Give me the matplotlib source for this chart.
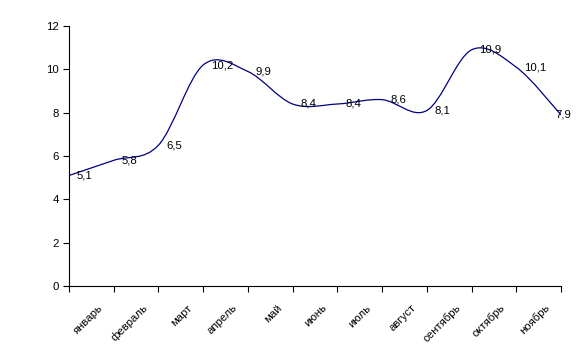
import matplotlib
matplotlib.use("Agg")
import matplotlib.pyplot as plt
from matplotlib.path import Path
from matplotlib.patches import PathPatch
import numpy as np

values = [5.1, 5.8, 6.5, 10.2, 9.9, 8.4, 8.4, 8.6, 8.1, 10.9, 10.1, 7.9]
value_labels = ["5,1", "5,8", "6,5", "10,2", "9,9", "8,4", "8,4", "8,6", "8,1", "10,9", "10,1", "7,9"]
months = ["январь", "февраль", "март", "апрель", "май", "июнь", "июль",
          "август", "сентябрь", "октябрь", "ноябрь"]
yticks = [0, 2, 4, 6, 8, 10, 12]

plt.rcParams['font.family'] = ['Liberation Sans', 'DejaVu Sans']
fs = 8.2

fig = plt.figure(figsize=(5.76, 3.64), dpi=100)
ax = fig.add_axes([69/576, 1-286/364, (561-69)/576, (286-26)/364])

x = np.arange(len(values), dtype=float)
y = np.array(values, dtype=float)

# Catmull-Rom style smoothing via cubic Bezier segments
verts = [(x[0], y[0])]
codes = [Path.MOVETO]
n = len(x)
for i in range(n - 1):
    p0 = np.array([x[max(i-1, 0)], y[max(i-1, 0)]])
    p1 = np.array([x[i], y[i]])
    p2 = np.array([x[i+1], y[i+1]])
    p3 = np.array([x[min(i+2, n-1)], y[min(i+2, n-1)]])
    b1 = p1 + (p2 - p0) / 6.0
    b2 = p2 - (p3 - p1) / 6.0
    verts += [tuple(b1), tuple(b2), tuple(p2)]
    codes += [Path.CURVE4] * 3
ax.add_patch(PathPatch(Path(verts, codes), facecolor='none', edgecolor='#000080', lw=0.9))

for i, (xi, yi, lab) in enumerate(zip(x, y, value_labels)):
    if i == n - 1:
        ax.annotate(lab, (xi, yi), xytext=(-6/1.389, 0), textcoords='offset points',
                    ha='left', va='center', fontsize=fs, color='black')
    else:
        ax.annotate(lab, (xi, yi), xytext=(8/1.389, 0), textcoords='offset points',
                    ha='left', va='center', fontsize=fs, color='black')

ax.set_xlim(0, n - 1)
ax.set_ylim(0, 12)
ax.set_yticks(yticks)
ax.set_yticklabels([str(t) for t in yticks], fontsize=fs)
ax.set_xticks(x)
ax.set_xticklabels([])
ax.set_xticks(np.arange(len(months)) + 0.8, minor=True)
ax.set_xticklabels(months, minor=True, rotation=45, ha='right', va='top', fontsize=fs)
ax.tick_params(axis='x', which='minor', length=0, pad=12)
ax.tick_params(axis='both', which='major', length=4.5, width=0.8, direction='out')
ax.tick_params(axis='y', pad=3)

for s in ['top', 'right']:
    ax.spines[s].set_visible(False)
for s in ['left', 'bottom']:
    ax.spines[s].set_linewidth(0.8)
ax.patch.set_alpha(0)

fig.savefig("out.png", dpi=100)
